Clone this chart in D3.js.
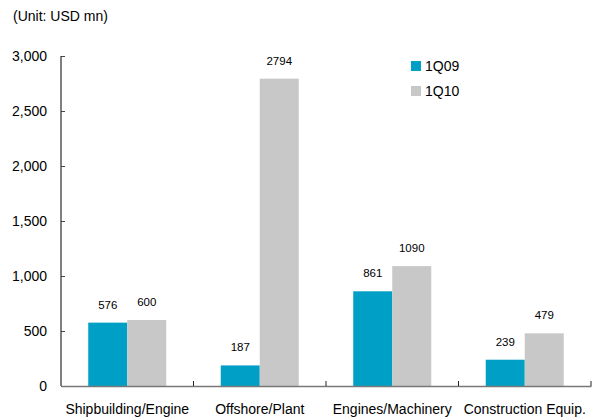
<!DOCTYPE html>
<html>
<head>
<meta charset="utf-8">
<script src="https://cdn.jsdelivr.net/npm/d3@7"></script>
<style>
  body { margin: 0; background: #fff; }
  svg { font-family: Arial, "Liberation Sans", sans-serif; }
</style>
</head>
<body>
<svg id="chart" width="596" height="420"></svg>
<script>
// chart data
const categories = ["Shipbuilding/Engine", "Offshore/Plant", "Engines/Machinery", "Construction Equip."];
const series = ["1Q09", "1Q10"];
const q109 = [576, 187, 861, 239];
const q110 = [600, 2794, 1090, 479];
const yTicks = [0, 500, 1000, 1500, 2000, 2500, 3000];
const colors = ["#00a0c6", "#c8c8c8"];

const svg = d3.select("#chart");
const margin = {left: 61, right: 5, top: 56, bottom: 34};
const w = 596 - margin.left - margin.right,
    h = 420 - margin.top - margin.bottom;

const g = svg.append("g").attr("transform", `translate(${margin.left},${margin.top})`);

const x = d3.scaleBand().domain(categories).range([0, w]).padding(0);
const x1 = d3.scaleBand().domain(series).range([0, 78]).padding(0);
const y = d3.scaleLinear().domain([0, 3000]).range([h, 0]);

// unit note
svg.append("text").attr("x", 13).attr("y", 21)
    .attr("font-size", 14).attr("fill", "#000")
    .text("(Unit: USD mn)");

const values = [q109, q110];
const offset = (x.bandwidth() - 78) / 2;

series.forEach((s, si) => {
    g.selectAll(`.bar${si}`)
        .data(categories)
        .join("rect")
        .attr("x", c => x(c) + offset + x1(s))
        .attr("y", (c, i) => y(values[si][i]))
        .attr("width", x1.bandwidth())
        .attr("height", (c, i) => h - y(values[si][i]))
        .attr("fill", colors[si]);

    g.selectAll(`.lab${si}`)
        .data(categories)
        .join("text")
        .attr("x", c => x(c) + offset + x1(s) + x1.bandwidth() / 2)
        .attr("y", (c, i) => y(values[si][i]) - 14)
        .attr("text-anchor", "middle")
        .attr("font-size", 11.5)
        .text((c, i) => values[si][i]);
});

// y axis
const yAxis = g.append("g")
    .call(d3.axisLeft(y).tickValues(yTicks).tickSize(-4).tickPadding(14)
        .tickFormat(d3.format(",")));
yAxis.select(".domain").attr("stroke", "#000").attr("d", `M0,${h}V0`);
yAxis.selectAll(".tick line").attr("stroke", "#444");
yAxis.selectAll(".tick text").attr("font-size", 14).attr("fill", "#000")
    .attr("font-family", "Arial, 'Liberation Sans', sans-serif");

// x axis
const xAxis = g.append("g").attr("transform", `translate(0,${h})`)
    .call(d3.axisBottom(x).tickSize(0).tickPadding(18));
xAxis.select(".domain").attr("stroke", "#777").attr("stroke-width", 1.5);
xAxis.selectAll(".tick text").attr("font-size", 14).attr("fill", "#000")
    .attr("font-family", "Arial, 'Liberation Sans', sans-serif");
xAxis.selectAll(".sep")
    .data(categories)
    .join("line")
    .attr("x1", c => x(c) + x.bandwidth())
    .attr("x2", c => x(c) + x.bandwidth())
    .attr("y1", 0).attr("y2", -5)
    .attr("stroke", "#222");

// legend
const legend = svg.append("g").attr("transform", "translate(411,61)");
series.forEach((s, i) => {
    legend.append("rect").attr("x", 0).attr("y", i * 25)
        .attr("width", 10).attr("height", 10).attr("fill", colors[i]);
    legend.append("text").attr("x", 14).attr("y", i * 25 + 10)
        .attr("font-size", 14).text(s);
});
</script>
</body>
</html>
